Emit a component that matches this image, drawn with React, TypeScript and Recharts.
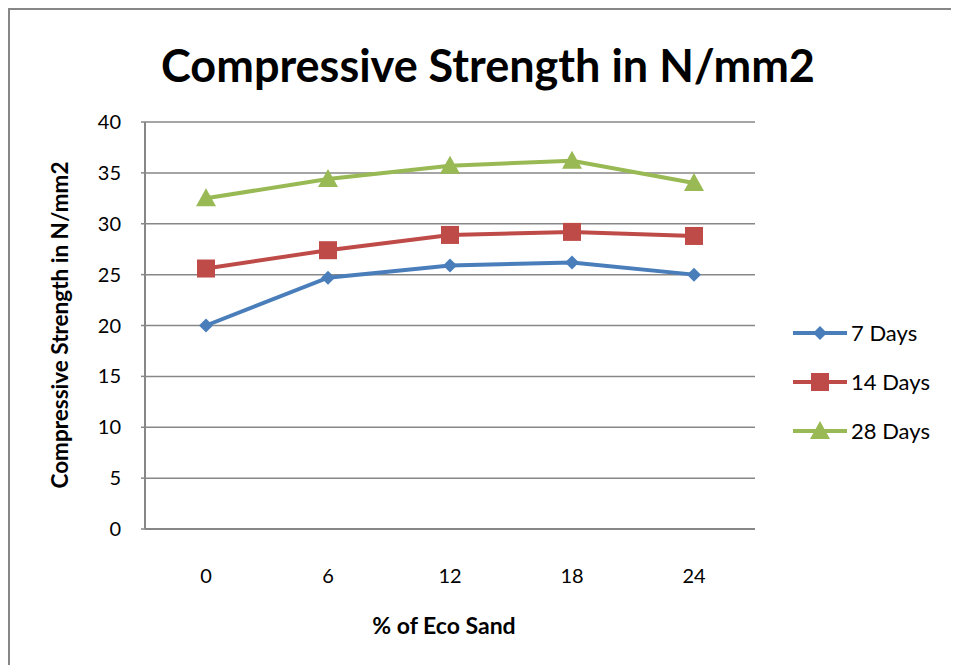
import { LineChart, Line, XAxis, YAxis, CartesianGrid } from "recharts";

const categories = ["0", "6", "12", "18", "24"];
const days7 = [20.0, 24.7, 25.9, 26.2, 25.0];
const days14 = [25.6, 27.4, 28.9, 29.2, 28.8];
const days28 = [32.5, 34.4, 35.7, 36.2, 34.0];
const yTicks = [0, 5, 10, 15, 20, 25, 30, 35, 40];

const data = categories.map((c, i) => ({
  pct: c,
  d7: days7[i],
  d14: days14[i],
  d28: days28[i],
}));

const FONT = "Lato, 'Open Sans', sans-serif";
const BLUE = "#4A7EBB";
const RED = "#BE4B48";
const GREEN = "#98B954";
const GRID = "#878787";

function Marker({ kind, cx, cy, color }: { kind: string; cx: number; cy: number; color: string }) {
  if (kind === "diamond") {
    const r = 7;
    return <path d={`M${cx},${cy - r}L${cx + r},${cy}L${cx},${cy + r}L${cx - r},${cy}Z`} fill={color} />;
  }
  if (kind === "square") {
    const s = 9;
    return <rect x={cx - s} y={cy - s} width={s * 2} height={s * 2} fill={color} />;
  }
  const r = 10;
  return <path d={`M${cx},${cy - r}L${cx + r},${cy + r * 0.8}L${cx - r},${cy + r * 0.8}Z`} fill={color} />;
}

const series = [
  { key: "d7", name: "7 Days", color: BLUE, kind: "diamond" },
  { key: "d14", name: "14 Days", color: RED, kind: "square" },
  { key: "d28", name: "28 Days", color: GREEN, kind: "triangle" },
];

// legend drawn by hand so it does not push the plot area around
function LegendBox() {
  return (
    <svg width={168} height={120} style={{ overflow: "visible" }}>
      {series.map((s, i) => {
        const y = 12 + i * 49;
        return (
          <g key={s.key}>
            <line x1={2} y1={y} x2={56} y2={y} stroke={s.color} strokeWidth={4} />
            <Marker kind={s.kind} cx={29} cy={y} color={s.color} />
            <text x={60} y={y + 8} fontFamily={FONT} fontSize={22} fill="#000">
              {s.name}
            </text>
          </g>
        );
      })}
    </svg>
  );
}

export default function App() {
  return (
    <div style={{ position: "relative", width: 951, height: 657, background: "#fff" }}>
      <div
        style={{
          position: "absolute",
          left: 0,
          top: 0,
          width: 951,
          height: 657,
          borderLeft: `2px solid ${GRID}`,
          borderTop: `2px solid ${GRID}`,
          boxSizing: "border-box",
        }}
      />
      <div style={{ position: "absolute", left: 0, top: 0 }}>
        <LineChart
          width={951}
          height={657}
          data={data}
          margin={{ top: 114, right: 204, left: 77, bottom: 76 }}
        >
          <text x={480} y={74} textAnchor="middle" fontFamily={FONT} fontWeight="bold" fontSize={45} fill="#000">
            Compressive  Strength in N/mm2
          </text>
          <text
            x={60}
            y={317}
            textAnchor="middle"
            transform="rotate(-90 60 317)"
            fontFamily={FONT}
            fontWeight="bold"
            fontSize={22.5}
            fill="#000"
          >
            Compressive Strength in N/mm2
          </text>
          <text x={436} y={626} textAnchor="middle" fontFamily={FONT} fontWeight="bold" fontSize={23} fill="#000">
            % of Eco Sand
          </text>
          <CartesianGrid vertical={false} stroke={GRID} strokeWidth={1.5} />
          <XAxis
            dataKey="pct"
            height={60}
            padding={{ left: 61, right: 61 }}
            axisLine={{ stroke: GRID, strokeWidth: 2 }}
            tickLine={false}
            tickMargin={34}
            tick={{ fontFamily: FONT, fontSize: 20, fill: "#000" }}
          />
          <YAxis
            width={60}
            domain={[0, 40]}
            ticks={yTicks}
            interval={0}
            axisLine={{ stroke: GRID, strokeWidth: 2 }}
            tickLine={{ stroke: GRID, strokeWidth: 1.5 }}
            tickSize={4}
            tickMargin={20}
            tick={{ fontFamily: FONT, fontSize: 20, fill: "#000" }}
          />
          {series.map((s) => (
            <Line
              key={s.key}
              dataKey={s.key}
              name={s.name}
              stroke={s.color}
              strokeWidth={4}
              isAnimationActive={false}
              dot={(p: any) => <Marker key={`${s.key}-${p.index}`} kind={s.kind} cx={p.cx} cy={p.cy} color={s.color} />}
              activeDot={false}
            />
          ))}
        </LineChart>
      </div>
      <div style={{ position: "absolute", left: 783, top: 313 }}>
        <LegendBox />
      </div>
    </div>
  );
}
